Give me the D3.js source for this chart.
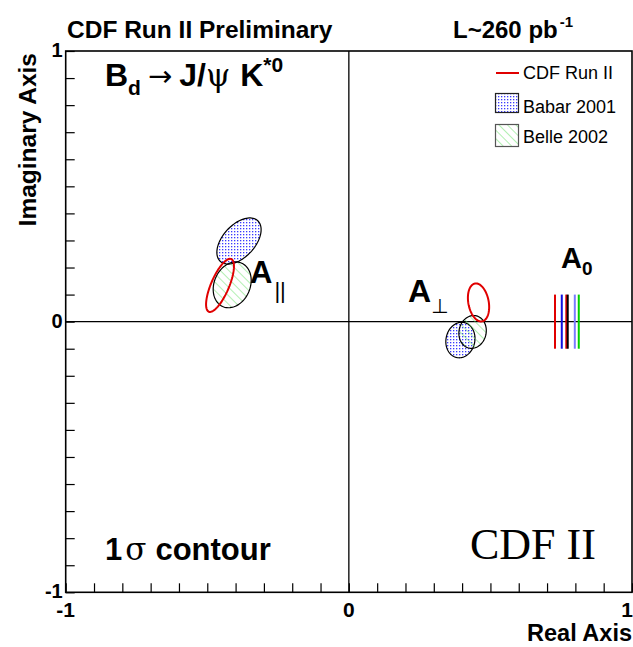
<!DOCTYPE html>
<html>
<head>
<meta charset="utf-8">
<script src="https://cdn.jsdelivr.net/npm/d3@7"></script>
<style>
  body { margin: 0; background: #fff; }
  text { font-family: "Liberation Sans", Arial, sans-serif; }
</style>
</head>
<body>
<div id="dataViz"></div>
<script>
//DATA
let xDomain = [-1, 1],
  yDomain = [-1, 1],
  labelTicks = [-1, 0, 1];

// 1 sigma contours: centre (re, im), semi axes, tilt in degrees
let babarContours = [
  { cx: -0.388, cy: 0.298, a: 0.1, b: 0.058, angle: 50 },
  { cx: 0.394, cy: -0.068, a: 0.066, b: 0.051, angle: 80 }
];
let belleContours = [
  { cx: -0.412, cy: 0.136, a: 0.087, b: 0.064, angle: 70 },
  { cx: 0.437, cy: -0.038, a: 0.061, b: 0.048, angle: 80 }
];
let cdfContours = [
  { cx: -0.455, cy: 0.134, a: 0.105, b: 0.032, angle: 68 },
  { cx: 0.458, cy: 0.071, a: 0.071, b: 0.036, angle: 100 }
];

// |A0| bands, drawn as short vertical lines at im = +-0.1
let a0Values = [0.728, 0.752, 0.768, 0.773, 0.798, 0.812];
let a0Colors = ["#e00000", "#1010e0", "#e00000", "#000000", "#7a7aff", "#00d000"];
let a0Height = 0.1;

let legendItems = ["CDF Run II", "Babar 2001", "Belle 2002"];

//DIMENSIONS
let WIDTH = 633,
  HEIGHT = 647,
  FRAME = { left: 65.7, right: 632, top: 51, bottom: 592.3 };

let svg = d3
  .select("#dataViz")
  .append("svg")
  .attr("width", WIDTH)
  .attr("height", HEIGHT)
  .style("display", "block");

svg.append("rect").attr("width", WIDTH).attr("height", HEIGHT).attr("fill", "#fff");

//Patterns
let defs = svg.append("defs");
let dots = defs
  .append("pattern")
  .attr("id", "babarFill")
  .attr("patternUnits", "userSpaceOnUse")
  .attr("width", 3)
  .attr("height", 3);
dots.append("rect").attr("width", 3).attr("height", 3).attr("fill", "#fff");
dots.append("rect").attr("width", 1.3).attr("height", 1.3).attr("fill", "#3a3aff");

let hatch = defs
  .append("pattern")
  .attr("id", "belleFill")
  .attr("patternUnits", "userSpaceOnUse")
  .attr("width", 6)
  .attr("height", 6)
  .attr("patternTransform", "rotate(-45)");
hatch
  .append("line")
  .attr("x1", 0)
  .attr("y1", 0)
  .attr("x2", 0)
  .attr("y2", 6)
  .attr("stroke", "#66e066")
  .attr("stroke-width", 1);

//SCALES
let xScale = d3.scaleLinear().domain(xDomain).range([FRAME.left, FRAME.right]);
let yScale = d3.scaleLinear().domain(yDomain).range([FRAME.bottom, FRAME.top]);

//Zero lines
svg
  .append("line")
  .attr("x1", xScale(xDomain[0]))
  .attr("x2", xScale(xDomain[1]))
  .attr("y1", yScale(0))
  .attr("y2", yScale(0))
  .attr("stroke", "#000")
  .attr("stroke-width", 1.3);
svg
  .append("line")
  .attr("x1", xScale(0))
  .attr("x2", xScale(0))
  .attr("y1", yScale(yDomain[0]))
  .attr("y2", yScale(yDomain[1]))
  .attr("stroke", "#000")
  .attr("stroke-width", 1.3);

//Contours
let angles = d3.range(0, 361, 4);
function ellipsePath(e) {
  let t = (e.angle * Math.PI) / 180;
  return d3
    .line()
    .x((d) => {
      let u = (d * Math.PI) / 180;
      return xScale(e.cx + e.a * Math.cos(u) * Math.cos(t) - e.b * Math.sin(u) * Math.sin(t));
    })
    .y((d) => {
      let u = (d * Math.PI) / 180;
      return yScale(e.cy + e.a * Math.cos(u) * Math.sin(t) + e.b * Math.sin(u) * Math.cos(t));
    })
    .curve(d3.curveLinearClosed)(angles);
}

svg
  .selectAll(".babar")
  .data(babarContours)
  .enter()
  .append("path")
  .attr("d", ellipsePath)
  .attr("fill", "url(#babarFill)")
  .attr("stroke", "#000")
  .attr("stroke-width", 1.2);

svg
  .selectAll(".belle")
  .data(belleContours)
  .enter()
  .append("path")
  .attr("d", ellipsePath)
  .attr("fill", "url(#belleFill)")
  .attr("stroke", "#000")
  .attr("stroke-width", 1.2);

svg
  .selectAll(".cdf")
  .data(cdfContours)
  .enter()
  .append("path")
  .attr("d", ellipsePath)
  .attr("fill", "none")
  .attr("stroke", "#e00000")
  .attr("stroke-width", 2);

//A0 lines
svg
  .selectAll(".a0")
  .data(a0Values)
  .enter()
  .append("line")
  .attr("x1", (d) => xScale(d))
  .attr("x2", (d) => xScale(d))
  .attr("y1", yScale(a0Height))
  .attr("y2", yScale(-a0Height))
  .attr("stroke", (d, i) => a0Colors[i])
  .attr("stroke-width", 2);

//AXES (ticks inside the frame)
let xAxis = d3
  .axisTop(xScale)
  .ticks(20)
  .tickSize(9)
  .tickFormat("");
let gx = svg.append("g").attr("transform", `translate(0,${FRAME.bottom})`).call(xAxis);
let yAxis = d3
  .axisRight(yScale)
  .ticks(20)
  .tickSize(9)
  .tickFormat("");
let gy = svg.append("g").attr("transform", `translate(${FRAME.left},0)`).call(yAxis);
[gx, gy].forEach((g) => {
  g.select(".domain").remove();
  g.selectAll("line").attr("stroke", "#000").attr("stroke-width", 1.2);
});

//Frame
svg
  .append("rect")
  .attr("x", FRAME.left)
  .attr("y", FRAME.top)
  .attr("width", FRAME.right - FRAME.left)
  .attr("height", FRAME.bottom - FRAME.top)
  .attr("fill", "none")
  .attr("stroke", "#000")
  .attr("stroke-width", 1.6);

//Tick labels
svg
  .selectAll(".xlab")
  .data(labelTicks)
  .enter()
  .append("text")
  .attr("x", (d) => (d === xDomain[1] ? WIDTH : xScale(d)))
  .attr("y", FRAME.bottom + 25)
  .attr("text-anchor", (d) => (d === xDomain[1] ? "end" : "middle"))
  .style("font-size", "21px")
  .style("font-weight", "bold")
  .text((d) => d);
svg
  .selectAll(".ylab")
  .data(labelTicks)
  .enter()
  .append("text")
  .attr("x", FRAME.left - 3)
  .attr("y", (d) => yScale(d) + 6)
  .attr("text-anchor", "end")
  .style("font-size", "20px")
  .style("font-weight", "bold")
  .text((d) => d);

//Axis titles
svg
  .append("text")
  .attr("x", FRAME.right)
  .attr("y", 641)
  .attr("text-anchor", "end")
  .style("font-size", "23.5px")
  .style("font-weight", "bold")
  .text("Real Axis");
svg
  .append("text")
  .attr("transform", `translate(36,${FRAME.top + 2}) rotate(-90)`)
  .attr("text-anchor", "end")
  .style("font-size", "24.5px")
  .style("font-weight", "bold")
  .text("Imaginary Axis");

//Header
svg
  .append("text")
  .attr("x", 67)
  .attr("y", 38)
  .style("font-size", "24.5px")
  .style("font-weight", "bold")
  .text("CDF Run II Preliminary");
let lumi = svg
  .append("text")
  .attr("x", 453)
  .attr("y", 38)
  .style("font-size", "24px")
  .style("font-weight", "bold");
lumi.append("tspan").text("L~260 pb");
lumi.append("tspan").attr("dy", -11).attr("dx", 2).style("font-size", "15px").text("-1");

//Decay label
let decay = svg
  .append("text")
  .attr("x", 105)
  .attr("y", 86)
  .style("font-size", "32px")
  .style("font-weight", "bold");
decay.append("tspan").text("B");
decay.append("tspan").attr("dy", 9).style("font-size", "21px").text("d");
decay
  .append("tspan")
  .attr("dy", -9)
  .attr("dx", 7)
  .style("font-family", "'DejaVu Sans'")
  .style("font-weight", "normal")
  .style("font-size", "29px")
  .text("\u2192");
decay.append("tspan").attr("dx", 7).text("J/");
decay
  .append("tspan")
  .style("font-family", "'DejaVu Serif'")
  .style("font-weight", "normal")
  .style("font-size", "31px")
  .text("\u03c8");
decay.append("tspan").attr("dx", 10).text("K");
decay.append("tspan").attr("dy", -14).style("font-size", "21px").text("*0");

//Amplitude labels
let aPar = svg.append("text").attr("x", 250).attr("y", 283).style("font-size", "31px").style("font-weight", "bold");
aPar.append("tspan").text("A");
aPar
  .append("tspan")
  .attr("dy", 15)
  .attr("dx", 2)
  .style("font-size", "22px")
  .style("font-weight", "normal")
  .text("||");

let aPerp = svg.append("text").attr("x", 408).attr("y", 302).style("font-size", "32px").style("font-weight", "bold");
aPerp.append("tspan").text("A");
aPerp
  .append("tspan")
  .attr("dy", 11)
  .style("font-family", "'DejaVu Sans'")
  .style("font-size", "20px")
  .style("font-weight", "normal")
  .text("\u22a5");

let aZero = svg.append("text").attr("x", 561).attr("y", 268).style("font-size", "29px").style("font-weight", "bold");
aZero.append("tspan").text("A");
aZero.append("tspan").attr("dy", 7).style("font-size", "19px").text("0");

//Bottom labels
let sigma = svg.append("text").attr("x", 105).attr("y", 560).style("font-size", "31px").style("font-weight", "bold");
sigma.append("tspan").text("1");
sigma
  .append("tspan")
  .attr("dx", 3)
  .style("font-family", "'DejaVu Serif'")
  .style("font-weight", "normal")
  .text("\u03c3");
sigma.append("tspan").attr("dx", 9).text("contour");

svg
  .append("text")
  .attr("x", 470)
  .attr("y", 559)
  .style("font-family", "'Liberation Serif', 'Times New Roman', serif")
  .style("font-size", "44px")
  .text("CDF II");

//LEGEND
let legend = svg.append("g");
legend
  .append("line")
  .attr("x1", 496)
  .attr("x2", 519)
  .attr("y1", 73)
  .attr("y2", 73)
  .attr("stroke", "#e00000")
  .attr("stroke-width", 2);
legend
  .append("rect")
  .attr("x", 495.5)
  .attr("y", 93.5)
  .attr("width", 23)
  .attr("height", 19)
  .attr("fill", "url(#babarFill)")
  .attr("stroke", "#222")
  .attr("stroke-width", 1.2);
legend
  .append("rect")
  .attr("x", 495.5)
  .attr("y", 124.5)
  .attr("width", 23)
  .attr("height", 22)
  .attr("fill", "url(#belleFill)")
  .attr("stroke", "#555")
  .attr("stroke-width", 1.2);
legend
  .selectAll(".legText")
  .data(legendItems)
  .enter()
  .append("text")
  .attr("x", 523)
  .attr("y", (d, i) => [79, 113, 143][i])
  .style("font-size", "18px")
  .text((d) => d);
</script>
</body>
</html>
